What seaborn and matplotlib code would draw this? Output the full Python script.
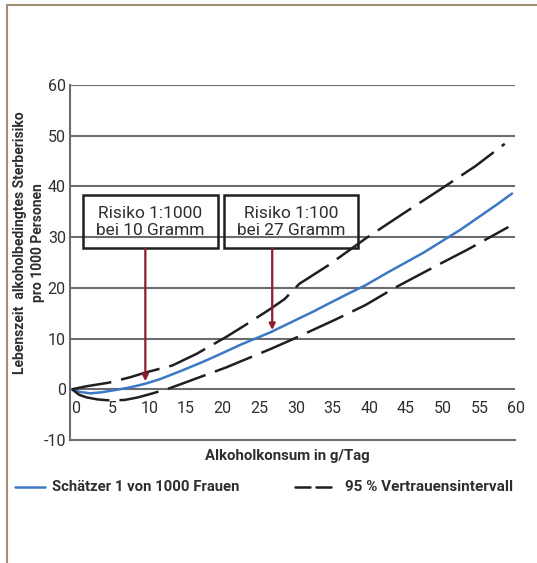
import matplotlib
matplotlib.use("Agg")
import matplotlib.pyplot as plt
import matplotlib.transforms as mtransforms
from matplotlib.lines import Line2D
from matplotlib.patches import Rectangle
import seaborn as sns
import pandas as pd

sns.set_theme(style="white")
plt.rcParams["font.family"] = ["Roboto", "DejaVu Sans"]

# values (g/Tag -> deaths per 1000)
est_x = [0, 1, 2.5, 4, 6.5, 8, 10, 12, 15, 18, 20, 23, 25, 27, 30, 33, 35, 38, 40, 43, 45, 48, 50, 53, 55, 58, 60]
est_y = [0, -0.5, -0.8, -0.6, 0, 0.4, 1.1, 2.0, 3.7, 5.5, 6.8, 8.8, 10.0, 11.2, 13.3, 15.4, 16.9, 19.1, 20.5, 23.0, 24.6, 27.0, 28.8, 31.5, 33.5, 36.5, 38.6]

up_x = [0, 2, 5, 8, 10, 13.7, 17, 21, 24, 27, 29, 30, 31, 35, 40, 45, 50, 55, 59]
up_y = [0, 0.6, 1.3, 2.4, 3.3, 4.7, 7.0, 10.3, 13.0, 15.8, 17.8, 19.3, 20.8, 24.5, 29.7, 34.5, 39.2, 44.0, 48.4]

lo_x = [0, 1, 2, 3.5, 5.2, 7.2, 9, 11, 13.3, 15, 18, 21, 24, 27, 30, 33, 36, 40, 44, 47, 50, 54, 57, 59.5]
lo_y = [0, -1.1, -1.6, -2.0, -2.2, -2.1, -1.6, -0.8, 0.2, 1.1, 2.7, 4.3, 6.1, 7.9, 9.8, 11.8, 13.8, 16.6, 20.0, 22.3, 24.6, 27.6, 30.0, 32.0]

yticks = [-10, 0, 10, 20, 30, 40, 50, 60]
xticks = [0, 5, 10, 15, 20, 25, 30, 35, 40, 45, 50, 55, 60]

boxes = [("Risiko 1:1000\nbei 10 Gramm", 1.5, 19.9, 10.0, 1.6),
         ("Risiko 1:100\nbei 27 Gramm", 20.7, 39.0, 27.3, 11.7)]

grid_col = "#6b6b72"
text_col = "#2e2e2e"
dark = "#1f1f1f"
blue = "#3c78c3"
arrow_col = "#8b1e2e"

fig = plt.figure(figsize=(5.37, 5.63), dpi=100)
ax = fig.add_axes([70 / 537, 1 - 440 / 563, 445 / 537, 355 / 563])

for y in yticks[1:]:
    ax.axhline(y, color=grid_col, lw=1.5, zorder=1)

est = pd.DataFrame({"x": est_x, "y": est_y})
up = pd.DataFrame({"x": up_x, "y": up_y})
lo = pd.DataFrame({"x": lo_x, "y": lo_y})

sns.lineplot(data=est, x="x", y="y", color=blue, lw=1.8, ax=ax, zorder=3, sort=False)
for d in (up, lo):
    sns.lineplot(data=d, x="x", y="y", color=dark, lw=1.8, ax=ax, zorder=3, sort=False)
    ax.lines[-1].set_dashes((16, 4))
    ax.lines[-1].set_dash_capstyle("butt")

# annotation boxes with arrows
for label, x0, x1, xa, ya in boxes:
    ax.add_patch(Rectangle((x0, 27.8), x1 - x0, 10.5, fill=False, ec=dark, lw=1.8, zorder=4))
    ax.text((x0 + x1) / 2, 33.0, label, ha="center", va="center", fontsize=12.5,
            color=text_col, linespacing=1.15, zorder=5)
    ax.annotate("", xy=(xa, ya), xytext=(xa, 27.8),
                arrowprops=dict(arrowstyle="-|>", color=arrow_col, lw=1.6,
                                mutation_scale=9, shrinkA=0, shrinkB=0), zorder=5)

ax.set_xlim(-0.27, 60.4)
ax.set_ylim(-10, 60)
ax.set_xticks(xticks)
ax.set_yticks(yticks)
ax.set_yticklabels([str(v) for v in yticks])
ax.tick_params(axis="both", length=0, labelsize=11.5, labelcolor=text_col)
ax.tick_params(axis="y", pad=3)
ax.tick_params(axis="x", pad=-28)
offset = mtransforms.ScaledTranslation(4 / 100, 0, fig.dpi_scale_trans)
for lab in ax.get_xticklabels():
    lab.set_transform(lab.get_transform() + offset)
ax.set_xlabel("")
ax.set_ylabel("")

for s in ["top", "right"]:
    ax.spines[s].set_visible(False)
for s in ["left", "bottom"]:
    ax.spines[s].set_color(grid_col)
    ax.spines[s].set_linewidth(1.5)

fig.text(29 / 537, 1 - 243 / 563, "Lebenszeit  alkoholbedingtes Sterberisiko\npro 1000 Personen",
         rotation=90, ha="center", va="center", multialignment="center",
         fontsize=10, fontweight="bold", color=text_col, linespacing=1.35)
fig.text(287 / 537, 1 - 456 / 563, "Alkoholkonsum in g/Tag", ha="center", va="center",
         fontsize=10.8, fontweight="bold", color=text_col)

# legend drawn by hand
ly = 1 - 487 / 563
fig.add_artist(Line2D([15 / 537, 45 / 537], [ly, ly], color=blue, lw=1.8))
fig.text(52 / 537, ly, "Schätzer 1 von 1000 Frauen", ha="left", va="center",
         fontsize=10.7, fontweight="bold", color=text_col)
fig.add_artist(Line2D([295 / 537, 310 / 537], [ly, ly], color=dark, lw=1.8))
fig.add_artist(Line2D([316 / 537, 331 / 537], [ly, ly], color=dark, lw=1.8))
fig.text(345 / 537, ly, "95 % Vertrauensintervall", ha="left", va="center",
         fontsize=11, fontweight="bold", color=text_col)

# page frame
frame = "#a38f74"
fig.add_artist(Line2D([7 / 537, 1], [1 - 5 / 563, 1 - 5 / 563], color=frame, lw=1.5))
fig.add_artist(Line2D([7 / 537, 7 / 537], [0, 1 - 5 / 563], color=frame, lw=1.5))

fig.savefig("out.png", dpi=100)
